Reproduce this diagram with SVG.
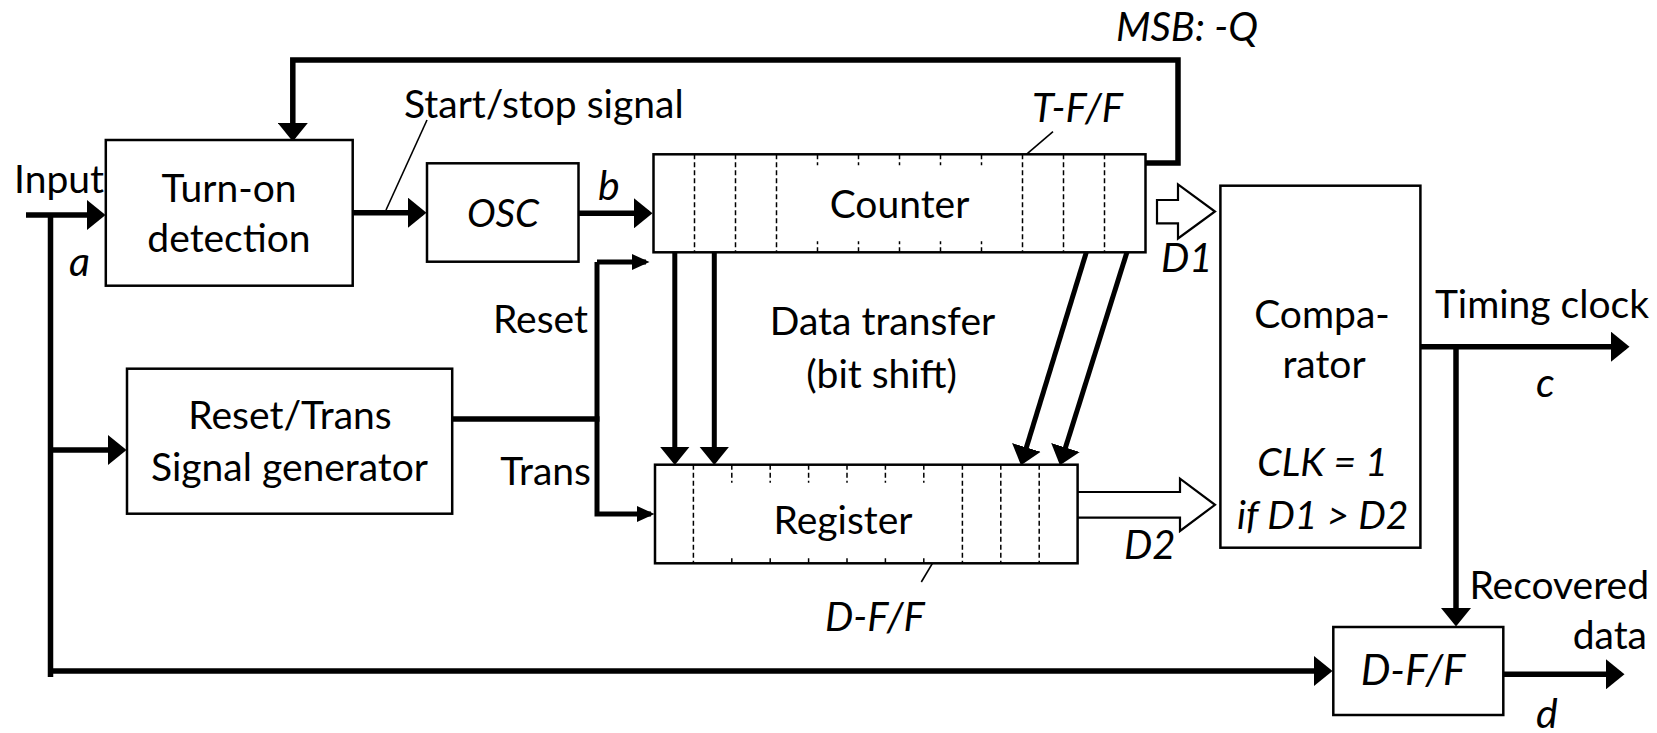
<svg xmlns="http://www.w3.org/2000/svg" width="1657" height="733" viewBox="0 0 1657 733">
<style>
text{font-family:Lato,"Liberation Sans",sans-serif;fill:#000}
.t{font-size:39px}
.it{font-size:40px;font-style:italic}
.lt{font-size:41px;font-style:italic}
.box{fill:#fff;stroke:#000;stroke-width:2.5}
.dash{stroke:#000;stroke-width:1.5;stroke-dasharray:5 3;fill:none}
.w{stroke:#000;stroke-width:5.5;fill:none;stroke-linejoin:miter}
.m{stroke:#000;stroke-width:5;fill:none}
.thin{stroke:#000;stroke-width:1.6;fill:none}
.open{fill:#fff;stroke:#000;stroke-width:2.2;stroke-linejoin:miter}
</style>
<defs>
<marker id="ah" markerUnits="userSpaceOnUse" markerWidth="19" markerHeight="30" refX="15" refY="15" orient="auto" viewBox="0 0 19 30">
<path d="M0,0 L18.5,15 L0,30 Z" fill="#000"/>
</marker>
<marker id="ahs" markerUnits="userSpaceOnUse" markerWidth="18" markerHeight="16" refX="14" refY="8" orient="auto" viewBox="0 0 18 16">
<path d="M0,0 L17.5,8 L0,16 Z" fill="#000"/>
</marker>
</defs>

<g id="connectors">
<line class="w" x1="26" y1="215" x2="102" y2="215" marker-end="url(#ah)"/>
<polyline class="w" points="50.5,215 50.5,677"/>
<line class="w" x1="50.5" y1="671" x2="1329" y2="671" marker-end="url(#ah)"/>
<line class="w" x1="50.5" y1="450" x2="123" y2="450" marker-end="url(#ah)"/>
<line class="w" x1="352.7" y1="212.7" x2="423" y2="212.7" marker-end="url(#ah)"/>
<line class="thin" x1="386" y1="210" x2="427" y2="120"/>
<line class="w" x1="578.5" y1="213.3" x2="649" y2="213.3" marker-end="url(#ah)"/>
<polyline class="w" points="1146,163 1178,163 1178,60 292.8,60 292.8,138" marker-end="url(#ah)"/>
<line class="w" x1="452.2" y1="419" x2="599.5" y2="419"/>
<polyline class="m" points="597,262 597,514 651,514" marker-end="url(#ahs)"/>
<line class="m" x1="597" y1="262" x2="646" y2="262" marker-end="url(#ahs)"/>
<line class="m" x1="674.8" y1="252" x2="674.8" y2="461.5" marker-end="url(#ah)"/>
<line class="m" x1="714.3" y1="252" x2="714.3" y2="461.5" marker-end="url(#ah)"/>
<line class="m" x1="1086.4" y1="252" x2="1022" y2="461.8" marker-end="url(#ah)"/>
<line class="m" x1="1127" y1="252" x2="1061" y2="461.8" marker-end="url(#ah)"/>
<polygon class="open" points="1157,200 1178,200 1178,184.3 1215,211.5 1178,238.5 1178,223.3 1157,223.3"/>
<path class="open" d="M1077.6,492 L1180,492 L1180,478.7 L1215,504.8 L1180,531 L1180,517.7 L1077.6,517.7"/>
<line class="w" x1="1420.4" y1="346.7" x2="1626" y2="346.7" marker-end="url(#ah)"/>
<line class="w" x1="1456" y1="346.7" x2="1456" y2="623" marker-end="url(#ah)"/>
<line class="w" x1="1503.3" y1="674.3" x2="1621" y2="674.3" marker-end="url(#ah)"/>
<line class="thin" x1="1053" y1="131.7" x2="1026.4" y2="154.3"/>
<line class="thin" x1="941.8" y1="547.7" x2="921.3" y2="582"/>
</g>

<g id="turnon">
<rect class="box" x="105.8" y="140" width="246.9" height="145.7"/>
<text class="t" x="229" y="202" text-anchor="middle">Turn-on</text>
<text class="t" x="229" y="252" text-anchor="middle">detection</text>
</g>

<g id="osc">
<rect class="box" x="427" y="163.3" width="151.5" height="98.4"/>
<text class="it" x="503" y="227" text-anchor="middle" style="font-size:38.5px">OSC</text>
</g>

<g id="counter">
<rect class="box" x="653.5" y="154.3" width="492" height="98"/>
<path class="dash" d="M694.5,154.3V252.3M735.5,154.3V252.3M776.5,154.3V252.3M1022.5,154.3V252.3M1063.5,154.3V252.3M1104.5,154.3V252.3"/>
<path class="dash" d="M817.5,154.3v11M858.5,154.3v11M899.5,154.3v11M940.5,154.3v11M981.5,154.3v11M817.5,252.3v-11M858.5,252.3v-11M899.5,252.3v-11M940.5,252.3v-11M981.5,252.3v-11"/>
<text class="t" x="899.5" y="218" text-anchor="middle">Counter</text>
</g>

<g id="register">
<rect class="box" x="655" y="464.7" width="422.6" height="98.6"/>
<path class="dash" d="M693.4,464.7V563.3M962.4,464.7V563.3M1000.8,464.7V563.3M1039.2,464.7V563.3"/>
<path class="dash" d="M731.8,464.7v18M770.2,464.7v18M808.6,464.7v18M847,464.7v18M885.4,464.7v18M923.8,464.7v18M731.8,563.3v-7M770.2,563.3v-7M808.6,563.3v-7M847,563.3v-7M885.4,563.3v-7M923.8,563.3v-7"/>
<text class="t" x="843" y="534" text-anchor="middle">Register</text>
</g>

<g id="generator">
<rect class="box" x="127" y="368.7" width="325.2" height="145"/>
<text class="t" x="290" y="429" text-anchor="middle">Reset/Trans</text>
<text class="t" x="289.5" y="481" text-anchor="middle">Signal generator</text>
</g>

<g id="comparator">
<rect class="box" x="1220.4" y="185.7" width="200" height="362"/>
<text class="t" x="1322" y="328" text-anchor="middle">Compa-</text>
<text class="t" x="1324" y="378" text-anchor="middle">rator</text>
<text class="it" x="1322.6" y="476" text-anchor="middle" style="font-size:39px">CLK = 1</text>
<text class="it" x="1322.7" y="529" text-anchor="middle" style="font-size:39px">if D1 &gt; D2</text>
</g>

<g id="dff">
<rect class="box" x="1333.3" y="627" width="170" height="88"/>
<text class="it" x="1413" y="685" text-anchor="middle" style="font-size:42px">D-F/F</text>
</g>

<g id="labels">
<text class="t" x="14" y="193">Input</text>
<text class="lt" x="69" y="276">a</text>
<text class="t" x="404" y="118">Start/stop signal</text>
<text class="lt" x="598" y="200">b</text>
<text class="it" x="1032" y="122">T-F/F</text>
<text class="it" x="1116" y="41">MSB: -Q</text>
<text class="it" x="1161" y="272">D1</text>
<text class="t" x="588" y="333" text-anchor="end">Reset</text>
<text class="t" x="591" y="485" text-anchor="end">Trans</text>
<text class="t" x="882.5" y="335" text-anchor="middle">Data transfer</text>
<text class="t" x="881.5" y="388" text-anchor="middle">(bit shift)</text>
<text class="it" x="825" y="631">D-F/F</text>
<text class="it" x="1124" y="559">D2</text>
<text class="t" x="1649" y="318" text-anchor="end">Timing clock</text>
<text class="lt" x="1536" y="397">c</text>
<text class="t" x="1649" y="599" text-anchor="end">Recovered</text>
<text class="t" x="1647" y="649" text-anchor="end">data</text>
<text class="lt" x="1536" y="728">d</text>
</g>
</svg>
